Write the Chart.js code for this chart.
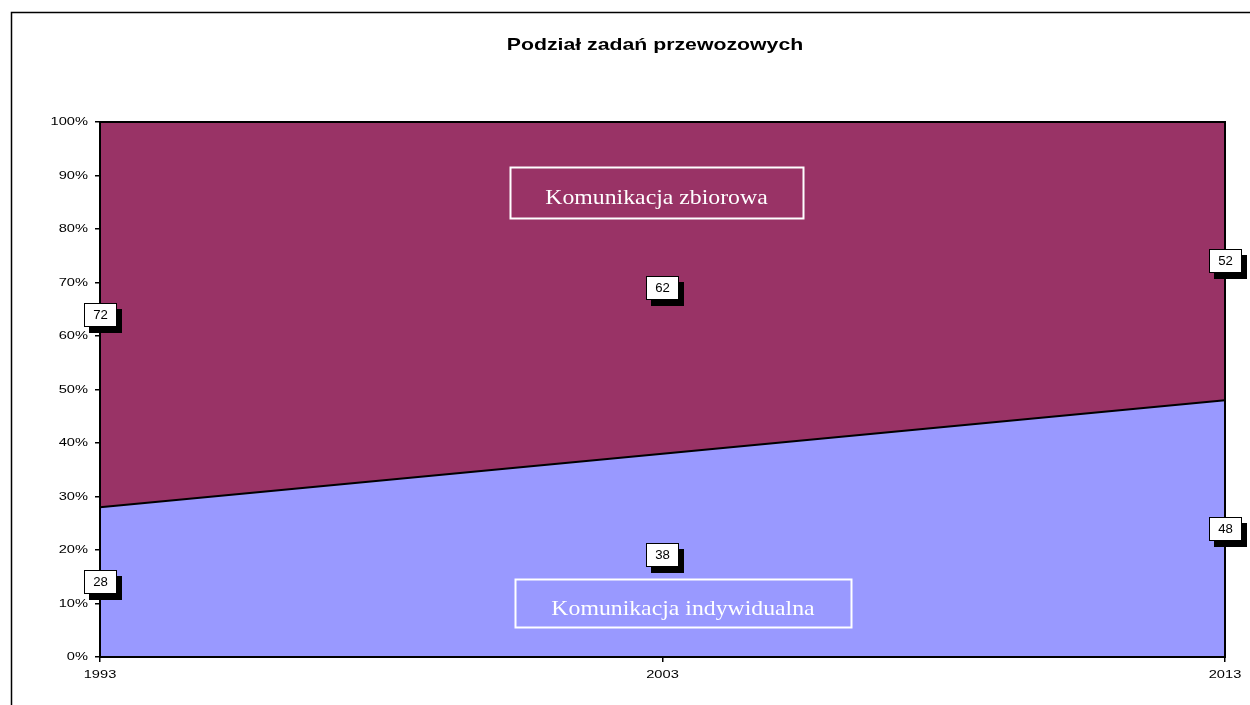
<!DOCTYPE html>
<html>
<head>
<meta charset="utf-8">
<script src="https://cdn.jsdelivr.net/npm/chart.js@4"></script>
<style>
  html, body { margin: 0; padding: 0; background: #fff; }
  #wrap { width: 1250px; height: 705px; position: relative; }
</style>
</head>
<body>
<div id="wrap"><canvas id="chart" width="1250" height="705"></canvas></div>
<script>
// data
const years = ['1993', '2003', '2013'];
const individual = [28, 38, 48];   // Komunikacja indywidualna
const collective = [72, 62, 52];   // Komunikacja zbiorowa
const yTicks = [0, 10, 20, 30, 40, 50, 60, 70, 80, 90, 100];

const chartTitle = 'Podział zadań przewozowych';
const SANS = '"Liberation Sans", Arial, sans-serif';
const SERIF = '"Liberation Serif", "Times New Roman", serif';

// the original is a bit stretched sideways, so text gets a horizontal scale
function stretchText(ctx, text, x, y, sx, align) {
    ctx.save();
    ctx.translate(x, y);
    ctx.scale(sx, 1);
    ctx.textAlign = align;
    ctx.fillText(text, 0, 0);
    ctx.restore();
}

// outer frame, title and plot frame
const framePlugin = {
    id: 'frame',
    beforeDraw(chart) {
        const ctx = chart.ctx;
        ctx.save();
        ctx.fillStyle = '#fff';
        ctx.fillRect(0, 0, chart.width, chart.height);
        ctx.strokeStyle = '#000';
        ctx.lineWidth = 1.5;
        ctx.beginPath();
        ctx.moveTo(11.5, chart.height);
        ctx.lineTo(11.5, 12.5);
        ctx.lineTo(chart.width, 12.5);
        ctx.stroke();
        // title
        ctx.fillStyle = '#000';
        ctx.font = 'bold 17px ' + SANS;
        ctx.textBaseline = 'middle';
        stretchText(ctx, chartTitle, 655, 45, 1.25, 'center');
        ctx.restore();
    },
    afterDatasetsDraw(chart) {
        const a = chart.chartArea;
        const ctx = chart.ctx;
        ctx.save();
        ctx.strokeStyle = '#000';
        ctx.lineWidth = 2;
        ctx.strokeRect(a.left, a.top, a.right - a.left, a.bottom - a.top);
        ctx.restore();
    }
};

// tick labels drawn from the library's scales
const tickLabelPlugin = {
    id: 'tickLabels',
    afterDraw(chart) {
        const ctx = chart.ctx;
        const xs = chart.scales.x;
        const ys = chart.scales.y;
        ctx.save();
        ctx.fillStyle = '#000';
        ctx.font = '11px ' + SANS;
        ctx.textBaseline = 'middle';
        yTicks.forEach(v => {
            stretchText(ctx, v + '%', xs.left - 12, ys.getPixelForValue(v), 1.33, 'right');
        });
        years.forEach((yr, i) => {
            stretchText(ctx, yr, xs.getPixelForValue(i), ys.bottom + 18, 1.33, 'center');
        });
        ctx.restore();
    }
};

// name boxes on the areas
const namePlugin = {
    id: 'names',
    afterDatasetsDraw(chart) {
        const ctx = chart.ctx;
        const y = chart.scales.y;
        const boxes = [
            { text: 'Komunikacja zbiorowa', cx: 656.5, cy: y.getPixelForValue(86.8), w: 293, h: 51 },
            { text: 'Komunikacja indywidualna', cx: 683, cy: y.getPixelForValue(10.1), w: 336, h: 48 }
        ];
        ctx.save();
        boxes.forEach(b => {
            ctx.strokeStyle = '#fff';
            ctx.lineWidth = 2;
            ctx.strokeRect(Math.round(b.cx - b.w / 2) + 0.5, Math.round(b.cy - b.h / 2) + 0.5, b.w, b.h);
            ctx.fillStyle = '#fff';
            ctx.font = '22px ' + SERIF;
            ctx.textBaseline = 'middle';
            stretchText(ctx, b.text, b.cx, b.cy + 6, 1.08, 'center');
        });
        ctx.restore();
    }
};

// value labels in the middle of each band, white box with black shadow
const labelPlugin = {
    id: 'valueLabels',
    afterDraw(chart) {
        const ctx = chart.ctx;
        const xs = chart.scales.x;
        const ys = chart.scales.y;
        ctx.save();
        ctx.font = '12px ' + SANS;
        ctx.textBaseline = 'middle';
        years.forEach((yr, i) => {
            const mids = [
                { v: individual[i], m: individual[i] / 2 },
                { v: collective[i], m: individual[i] + collective[i] / 2 }
            ];
            mids.forEach(d => {
                const px = xs.getPixelForValue(i);
                const py = ys.getPixelForValue(d.m);
                const w = 33, h = 24;
                const bx = Math.round(px - w / 2), by = Math.round(py - h / 2);
                ctx.fillStyle = '#000';
                ctx.fillRect(bx + 5, by + 6, w, h);
                ctx.fillStyle = '#fff';
                ctx.fillRect(bx, by, w, h);
                ctx.strokeStyle = '#000';
                ctx.lineWidth = 1;
                ctx.strokeRect(bx + 0.5, by + 0.5, w - 1, h - 1);
                ctx.fillStyle = '#000';
                stretchText(ctx, String(d.v), bx + w / 2, by + h / 2 + 1, 1.1, 'center');
            });
        });
        ctx.restore();
    }
};

new Chart(document.getElementById('chart').getContext('2d'), {
    type: 'line',
    data: {
        labels: years,
        datasets: [
            {
                label: 'Komunikacja indywidualna',
                data: individual,
                backgroundColor: '#9999FF',
                borderColor: '#000',
                borderWidth: 2,
                fill: 'origin',
                pointRadius: 0,
                tension: 0
            },
            {
                label: 'Komunikacja zbiorowa',
                data: collective,
                backgroundColor: '#993366',
                borderColor: '#000',
                borderWidth: 2,
                fill: '-1',
                pointRadius: 0,
                tension: 0
            }
        ]
    },
    options: {
        responsive: false,
        animation: false,
        layout: { padding: { top: 122, right: 25, left: 0, bottom: 0 } },
        plugins: {
            legend: { display: false },
            title: { display: false },
            tooltip: { enabled: false }
        },
        scales: {
            x: {
                offset: false,
                grid: { drawOnChartArea: false, color: '#000', tickLength: 5, lineWidth: 1.5 },
                border: { color: '#000', width: 2 },
                ticks: {
                    color: 'rgba(0,0,0,0)',
                    maxRotation: 0,
                    font: { family: SANS, size: 11 }
                },
                afterFit(scale) { scale.height = 48; }
            },
            y: {
                stacked: true,
                min: 0,
                max: 100,
                afterBuildTicks(scale) { scale.ticks = yTicks.map(v => ({ value: v })); },
                grid: { drawOnChartArea: false, color: '#000', tickLength: 5, lineWidth: 1.5 },
                border: { color: '#000', width: 2 },
                ticks: {
                    color: 'rgba(0,0,0,0)',
                    font: { family: SANS, size: 11 }
                },
                afterFit(scale) { scale.width = 100; }
            }
        }
    },
    plugins: [framePlugin, namePlugin, labelPlugin, tickLabelPlugin]
});
</script>
</body>
</html>
